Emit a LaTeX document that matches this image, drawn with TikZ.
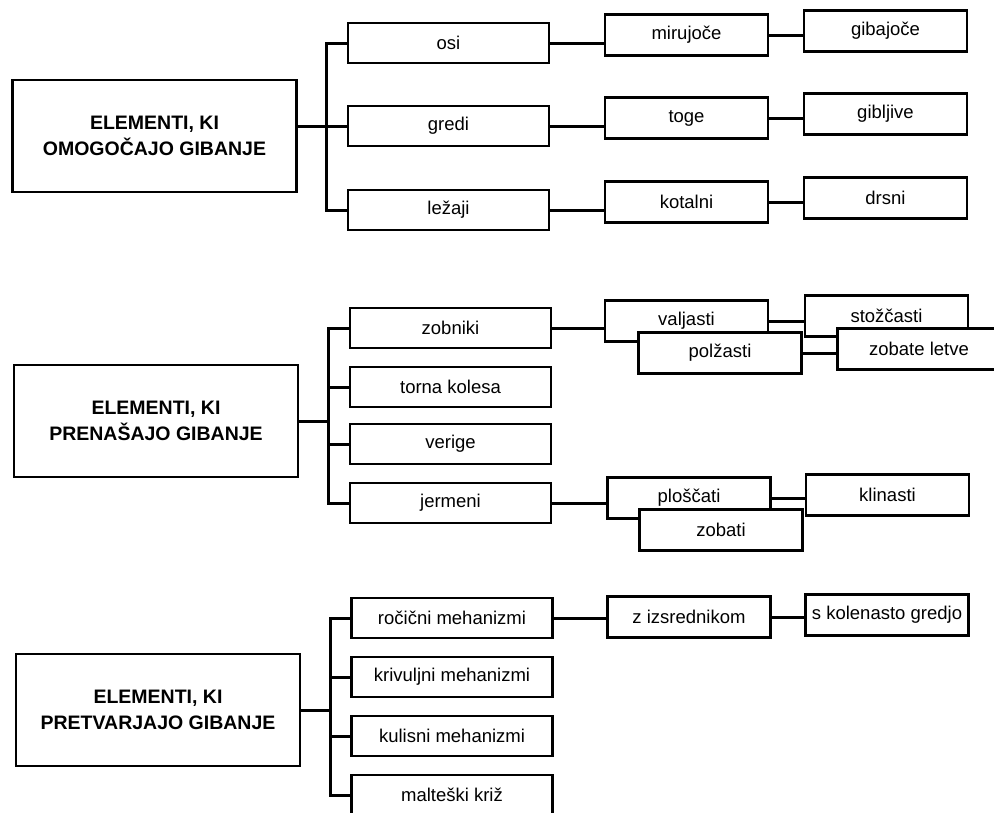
\documentclass[tikz,border=0pt]{standalone}
\usepackage{fontspec}
\setmainfont{Liberation Sans}
\usetikzlibrary{positioning}

\begin{document}
\begin{tikzpicture}[x=1pt,y=-1pt,
  every node/.style={draw,fill=white,line width=2.1pt,align=center,inner sep=2pt},
  head/.style={minimum width=284pt,minimum height=112pt,font=\fontsize{19.5}{26}\selectfont\bfseries},
  item/.style={minimum width=201pt,minimum height=40pt,font=\fontsize{18.5}{22}\selectfont},
  sub/.style={minimum width=163pt,minimum height=41pt,font=\fontsize{18.5}{22}\selectfont},
  link/.style={line width=3pt}]
\useasboundingbox (0,0) rectangle (994,812);
\clip (0,0) rectangle (994,812);

% omogocajo gibanje
\node[head] (omog) at (154.5,136) {ELEMENTI, KI\\OMOGOČAJO GIBANJE};
\node[item] (osi) at (448.5,43) {osi};
\node[item] (gredi) at (448.5,126) {gredi};
\node[item] (lez) at (448.5,210) {ležaji};
\node[sub] (miru) at (686.5,35) {mirujoče};
\node[sub] (toge) at (686.5,118) {toge};
\node[sub] (kot) at (686.5,202) {kotalni};
\node[sub] (gib) at (885.5,31) {gibajoče};
\node[sub] (gibl) at (885.5,114) {gibljive};
\node[sub] (drs) at (885.5,198) {drsni};
\coordinate (bus1) at (326,0);
\draw[link] (osi.west) -| (bus1 |- lez.west) -- (lez.west);
\draw[link] (omog.east |- gredi.west) -- (gredi.west);
\draw[link] (osi.east) -- (osi.east -| miru.west);
\draw[link] (gredi.east) -- (gredi.east -| toge.west);
\draw[link] (lez.east) -- (lez.east -| kot.west);
\draw[link] (miru.east) -- (miru.east -| gib.west);
\draw[link] (toge.east) -- (toge.east -| gibl.west);
\draw[link] (kot.east) -- (kot.east -| drs.west);

% prenasajo gibanje
\node[head] (pren) at (156,421) {ELEMENTI, KI\\PRENAŠAJO GIBANJE};
\node[item] (zob) at (450.5,328) {zobniki};
\node[item] (tor) at (450.5,387) {torna kolesa};
\node[item] (ver) at (450.5,444) {verige};
\node[item] (jer) at (450.5,503) {jermeni};
\node[sub] (valj) at (686.5,321) {valjasti};
\node[sub] (stoz) at (886.5,316) {stožčasti};
\node[sub] (polz) at (720,353) {polžasti};
\node[sub] (letve) at (919,349) {zobate letve};
\node[sub] (plosc) at (689,498) {ploščati};
\node[sub] (zobati) at (721,530) {zobati};
\node[sub] (klin) at (887.5,495) {klinasti};
\coordinate (bus2) at (328,0);
\draw[link] (zob.west) -| (bus2 |- jer.west) -- (jer.west);
\draw[link] (tor.west) -- (tor.west -| bus2);
\draw[link] (ver.west) -- (ver.west -| bus2);
\draw[link] (pren.east) -- (pren.east -| bus2);
\draw[link] (zob.east) -- (zob.east -| valj.west);
\draw[link] (valj.east) -- (valj.east -| stoz.west);
\draw[link] (polz.east) -- (polz.east -| letve.west);
\draw[link] (jer.east) -- (jer.east -| plosc.west);
\draw[link] (plosc.east) -- (plosc.east -| klin.west);

% pretvarjajo gibanje
\node[head] (pretv) at (158,710) {ELEMENTI, KI\\PRETVARJAJO GIBANJE};
\node[item] (roc) at (452,618) {ročični mehanizmi};
\node[item] (kriv) at (452,677) {krivuljni mehanizmi};
\node[item] (kul) at (452,736) {kulisni mehanizmi};
\node[item] (malt) at (452,795) {malteški križ};
\node[sub] (izs) at (689,617) {z izsrednikom};
\node[sub] (kol) at (887,615) {s kolenasto gredjo};
\coordinate (bus3) at (330,0);
\draw[link] (roc.west) -| (bus3 |- malt.west) -- (malt.west);
\draw[link] (kriv.west) -- (kriv.west -| bus3);
\draw[link] (kul.west) -- (kul.west -| bus3);
\draw[link] (pretv.east) -- (pretv.east -| bus3);
\draw[link] (roc.east) -- (roc.east -| izs.west);
\draw[link] (izs.east) -- (izs.east -| kol.west);
\end{tikzpicture}
\end{document}
